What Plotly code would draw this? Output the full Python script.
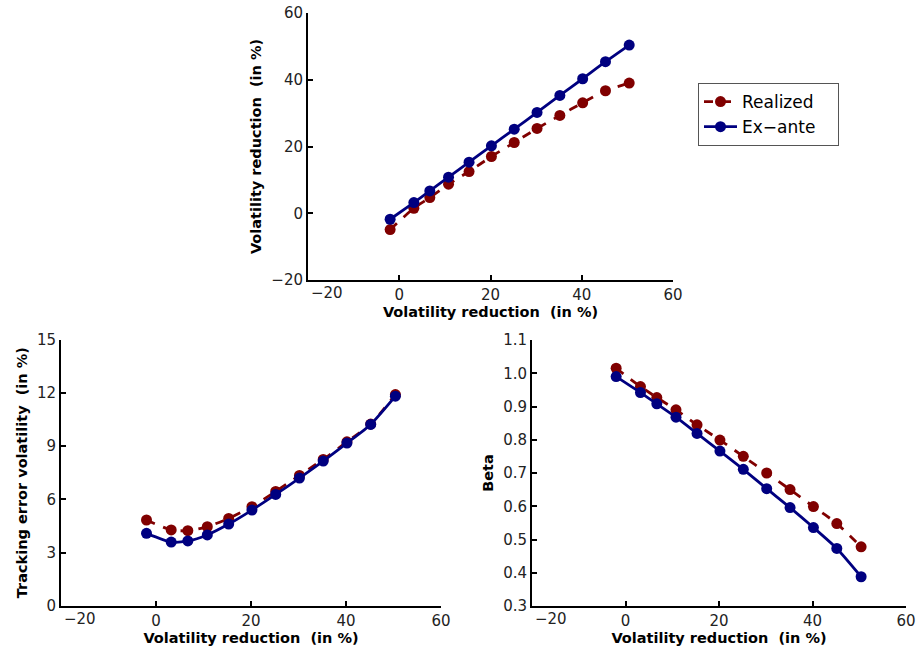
import plotly.graph_objects as go

x_vals = [-2.0, 3.2, 6.7, 10.8, 15.3, 20.2, 25.2, 30.2, 35.2, 40.2, 45.2, 50.4]

vol_realized = [-4.9, 1.5, 4.7, 8.7, 12.5, 17.0, 21.2, 25.4, 29.3, 33.1, 36.7, 39.0]
vol_exante = [-1.8, 3.2, 6.7, 10.8, 15.3, 20.2, 25.2, 30.2, 35.3, 40.3, 45.4, 50.4]

te_realized = [4.84, 4.28, 4.24, 4.46, 4.93, 5.59, 6.45, 7.35, 8.25, 9.24, 10.24, 11.9]
te_exante = [4.09, 3.6, 3.66, 4.0, 4.61, 5.4, 6.28, 7.2, 8.16, 9.17, 10.22, 11.81]

beta_realized = [1.015, 0.96, 0.927, 0.89, 0.845, 0.799, 0.75, 0.70, 0.65, 0.599, 0.548, 0.478]
beta_exante = [0.99, 0.942, 0.908, 0.868, 0.819, 0.766, 0.711, 0.653, 0.596, 0.536, 0.473, 0.388]

x_tickvals = [-20, 0, 20, 40, 60]
x_ticktext = ["", "0", "20", "40", "60"]
x_first_label = "\u221220"

RED = "#800000"
BLUE = "#000080"
FONT = "DejaVu Sans"
TICKFONT = dict(family=FONT, size=15, color="#222222")

fig = go.Figure()

def add_pair(xa, ya, yr, ye, show):
    fig.add_trace(go.Scatter(
        x=x_vals, y=yr, name="Realized\u2007\u2002", mode="lines+markers",
        line=dict(color=RED, width=2.8, dash="dash", shape="spline", smoothing=0.6),
        marker=dict(color=RED, size=11), xaxis=xa, yaxis=ya, showlegend=show,
        legendrank=1))
    fig.add_trace(go.Scatter(
        x=x_vals, y=ye, name="Ex\u2212ante", mode="lines+markers",
        line=dict(color=BLUE, width=2.8, shape="spline", smoothing=0.6),
        marker=dict(color=BLUE, size=11), xaxis=xa, yaxis=ya, showlegend=show,
        legendrank=2))

add_pair("x", "y", vol_realized, vol_exante, True)
add_pair("x2", "y2", te_realized, te_exante, False)
add_pair("x3", "y3", beta_realized, beta_exante, False)

W, H = 919, 653

def dx(a, b):
    return [a / W, b / W]

def dy(top, bottom):
    return [1 - bottom / H, 1 - top / H]

axis_common = dict(
    showline=True, linecolor="black", linewidth=2, showgrid=False, zeroline=False,
    ticks="inside", ticklen=5, tickwidth=1.5, tickcolor="black", automargin=False,
    tickfont=TICKFONT,
)
x_common = dict(range=[-20, 60], tickmode="array", tickvals=x_tickvals, ticktext=x_ticktext, **axis_common)
TFONT = dict(family=FONT, size=14.5, color="black")
xtitle = dict(text="<b>Volatility reduction  (in %)</b>", font=TFONT, standoff=2)

fig.update_layout(
    width=W, height=H,
    margin=dict(l=0, r=0, t=0, b=0, autoexpand=False),
    paper_bgcolor="white", plot_bgcolor="white",
    xaxis=dict(domain=dx(308, 673), anchor="y", title=xtitle, **x_common),
    yaxis=dict(domain=dy(13, 280), range=[-20, 60], dtick=20, anchor="x",
               title=dict(text="<b>Volatility reduction  (in %)</b>", font=TFONT, standoff=6),
               **axis_common),
    xaxis2=dict(domain=dx(61, 441), anchor="y2", title=xtitle, **x_common),
    yaxis2=dict(domain=dy(339.5, 606), range=[0, 15], dtick=3, anchor="x2",
                title=dict(text="<b>Tracking error volatility  (in %)</b>", font=TFONT, standoff=6),
                **axis_common),
    xaxis3=dict(domain=dx(532, 906), anchor="y3", title=xtitle, **x_common),
    yaxis3=dict(domain=dy(340, 606), range=[0.3, 1.1], dtick=0.1, tickformat=".1f", anchor="x3",
                title=dict(text="<b>Beta</b>", font=TFONT, standoff=6),
                **axis_common),
    legend=dict(x=698 / W, y=1 - 83 / H, xanchor="left", yanchor="top",
                bordercolor="#555555", borderwidth=1, bgcolor="white",
                font=dict(family=FONT, size=17, color="black"),
                tracegroupgap=0, itemwidth=33),
    showlegend=True,
)

# first x tick label, set just right of the axis corner as in the original
for xr, yr, ymin in [("x", "y", -20), ("x2", "y2", 0), ("x3", "y3", 0.3)]:
    fig.add_annotation(x=x_tickvals[0], y=ymin, xref=xr, yref=yr, text=x_first_label,
                       showarrow=False, xanchor="left", yanchor="top", yshift=-2, xshift=1,
                       font=TICKFONT)

fig.write_html("out.html", config={"displayModeBar": False},
               post_script="document.body.style.margin='0px';")
